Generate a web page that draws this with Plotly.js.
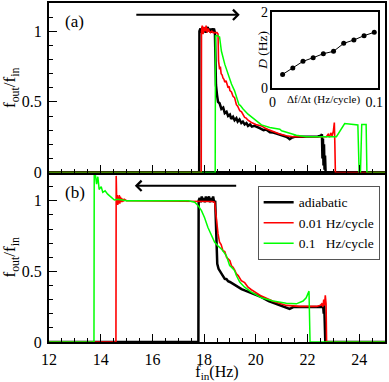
<!DOCTYPE html>
<html>
<head>
<meta charset="utf-8">
<script src="https://cdn.plot.ly/plotly-3.0.1.min.js"></script>
<style>
html,body{margin:0;padding:0;background:#fff;}
#chart{width:389px;height:382px;}
#chart svg text{font-family:"Liberation Serif","Times New Roman",serif !important;}
#aux{position:absolute;left:0;top:390px;font:10px monospace;color:#fff;width:300px;}
</style>
</head>
<body>
<div id="chart"></div>
<div id="aux"></div>
<script>
// ---- Panel (a): upward sweep ----
var upAdiabaticX = [12, 17.81, 17.82, 17.86, 17.9, 17.94, 17.98, 18.02, 18.06, 18.1, 18.14, 18.18, 18.22, 18.26, 18.3, 18.34, 18.38, 18.42, 18.44, 18.46, 18.5, 18.54, 18.6, 18.67, 18.74, 18.8, 18.87, 18.93, 19.0, 19.05, 19.12, 19.18, 19.25, 19.3, 19.37, 19.44, 19.5, 19.57, 19.64, 19.7, 19.78, 19.85, 19.95, 20.09, 20.15, 20.3, 20.4, 20.55, 20.67, 20.8, 20.9, 21.05, 21.18, 21.25, 21.31, 21.38, 21.5, 21.8, 22.1, 22.4, 22.52, 22.56, 22.58, 22.6, 22.62, 22.64, 22.66, 22.68, 22.7, 22.73, 25];
var upAdiabaticY = [0, 0, 1.0, 1.02, 0.99, 1.03, 1.0, 1.02, 0.99, 1.01, 1.03, 1.0, 1.02, 0.99, 1.02, 1.0, 1.02, 0.99, 0.8, 0.62, 0.55, 0.5, 0.49, 0.45, 0.46, 0.42, 0.43, 0.4, 0.41, 0.38, 0.395, 0.37, 0.385, 0.36, 0.375, 0.35, 0.36, 0.34, 0.35, 0.33, 0.34, 0.325, 0.33, 0.315, 0.314, 0.3, 0.305, 0.285, 0.283, 0.275, 0.27, 0.26, 0.253, 0.245, 0.236, 0.245, 0.253, 0.253, 0.253, 0.255, 0.26, 0.27, 0.1, 0.24, 0.05, 0.2, 0.02, 0.12, 0.01, 0, 0];

var upSlowX = [12, 17.89, 17.9, 17.93, 17.96, 18.0, 18.04, 18.08, 18.12, 18.16, 18.2, 18.25, 18.3, 18.35, 18.4, 18.45, 18.5, 18.54, 18.56, 18.6, 18.63, 18.66, 18.7, 18.73, 18.77, 18.8, 18.85, 18.93, 18.97, 19.0, 19.06, 19.12, 19.18, 19.25, 19.3, 19.38, 19.45, 19.57, 19.63, 19.7, 19.77, 19.83, 20.0, 20.22, 20.4, 20.67, 20.9, 21.18, 21.44, 21.8, 22.2, 22.5, 22.73, 22.8, 22.85, 22.9, 22.95, 23.0, 23.04, 23.06, 23.08, 25];
var upSlowY = [0, 0, 1.0, 1.04, 0.98, 1.03, 1.0, 1.04, 0.99, 1.02, 1.0, 0.99, 1.0, 0.99, 0.99, 0.99, 0.99, 0.98, 0.79, 0.73, 0.75, 0.7, 0.69, 0.67, 0.66, 0.64, 0.65, 0.6, 0.61, 0.58, 0.57, 0.54, 0.53, 0.48, 0.47, 0.437, 0.43, 0.39, 0.385, 0.37, 0.36, 0.354, 0.34, 0.33, 0.31, 0.29, 0.275, 0.26, 0.253, 0.253, 0.253, 0.253, 0.253, 0.27, 0.25, 0.28, 0.26, 0.29, 0.354, 0.2, 0, 0];

var upFastX = [12, 18.43, 18.44, 18.5, 18.6, 18.67, 18.8, 18.93, 19.06, 19.18, 19.31, 19.35, 19.4, 19.51, 19.7, 19.96, 20.22, 20.54, 20.93, 21.0, 21.31, 21.57, 21.95, 22.5, 23.12, 23.44, 23.95, 24.0, 24.05, 24.1, 24.12, 24.27, 24.3, 25];
var upFastY = [0, 0, 0.967, 0.97, 0.96, 0.86, 0.767, 0.696, 0.626, 0.578, 0.51, 0.48, 0.475, 0.449, 0.413, 0.378, 0.337, 0.318, 0.307, 0.295, 0.279, 0.264, 0.253, 0.253, 0.253, 0.347, 0.337, 0, 0, 0.34, 0.34, 0.34, 0, 0];

// ---- Panel (b): downward sweep ----
var downAdiabaticX = [12, 17.78, 17.79, 17.83, 17.87, 17.91, 17.95, 17.99, 18.03, 18.07, 18.11, 18.15, 18.19, 18.23, 18.27, 18.31, 18.35, 18.39, 18.43, 18.46, 18.48, 18.51, 18.56, 18.62, 18.67, 18.73, 18.8, 18.87, 18.93, 19.0, 19.12, 19.2, 19.31, 19.45, 19.57, 19.7, 19.83, 20.0, 20.22, 20.5, 20.8, 21.18, 21.31, 21.45, 21.8, 22.2, 22.5, 22.57, 22.6, 22.63, 22.65, 22.67, 22.69, 25];
var downAdiabaticY = [0, 0, 1.0, 1.02, 0.99, 1.03, 1.0, 1.02, 0.99, 1.03, 1.0, 1.01, 1.03, 0.99, 1.02, 1.0, 1.03, 0.99, 1.0, 0.8, 0.67, 0.553, 0.518, 0.5, 0.483, 0.47, 0.447, 0.445, 0.43, 0.425, 0.41, 0.4, 0.388, 0.375, 0.365, 0.355, 0.347, 0.335, 0.318, 0.29, 0.27, 0.247, 0.235, 0.247, 0.247, 0.247, 0.25, 0.247, 0.27, 0.2, 0.26, 0.05, 0, 0];

var downSlowX = [12, 14.59, 14.6, 14.62, 14.64, 14.66, 14.68, 14.7, 14.72, 14.74, 14.76, 14.78, 14.8, 14.82, 14.85, 14.88, 14.92, 15.0, 15.5, 16, 17, 18, 18.3, 18.41, 18.48, 18.54, 18.6, 18.66, 18.73, 18.8, 18.87, 18.93, 19.0, 19.06, 19.12, 19.18, 19.25, 19.32, 19.44, 19.57, 19.7, 19.83, 19.96, 20.22, 20.67, 21.18, 21.7, 22.35, 22.5, 22.55, 22.6, 22.63, 22.66, 22.69, 22.72, 22.73, 22.74, 25];
var downSlowY = [0, 0, 1.176, 0.98, 1.04, 0.97, 1.03, 0.98, 1.04, 0.98, 1.03, 0.99, 1.02, 0.99, 1.015, 0.995, 1.01, 1.0, 1.0, 1.0, 1.0, 1.0, 0.995, 0.99, 0.86, 0.765, 0.706, 0.69, 0.647, 0.64, 0.6, 0.588, 0.575, 0.54, 0.53, 0.51, 0.483, 0.47, 0.435, 0.42, 0.388, 0.37, 0.353, 0.325, 0.289, 0.259, 0.252, 0.252, 0.26, 0.27, 0.25, 0.3, 0.26, 0.33, 0.27, 0.1, 0, 0];

var downFastX = [12, 13.74, 13.75, 13.8, 13.84, 13.89, 13.94, 14.02, 14.08, 14.17, 14.27, 14.4, 14.53, 14.66, 14.79, 15.0, 15.5, 16, 16.5, 17, 17.4, 17.64, 17.77, 17.9, 18.02, 18.15, 18.28, 18.41, 18.54, 18.67, 18.86, 18.93, 18.99, 19.06, 19.18, 19.25, 19.38, 19.57, 19.83, 20.22, 20.67, 21.18, 21.57, 21.83, 21.95, 22.06, 22.08, 22.1, 25];
var downFastY = [0, 0, 1.18, 1.176, 1.118, 1.17, 1.08, 1.10, 1.06, 1.07, 1.047, 1.024, 1.005, 1.01, 1.005, 1.0, 1.0, 1.0, 1.005, 1.0, 1.0, 0.99, 0.965, 0.93, 0.88, 0.81, 0.753, 0.706, 0.68, 0.659, 0.612, 0.577, 0.541, 0.53, 0.506, 0.471, 0.424, 0.388, 0.353, 0.313, 0.29, 0.275, 0.27, 0.29, 0.313, 0.36, 0.1, 0, 0];

// ---- Inset: D vs sweep rate ----
var insetRate = [0.01, 0.02, 0.03, 0.04, 0.05, 0.06, 0.07, 0.08, 0.09, 0.10];
var insetD = [0.368, 0.535, 0.711, 0.807, 0.912, 0.974, 1.184, 1.272, 1.386, 1.474];

var seriesNames = ['adiabatic', '0.01 Hz/cycle', '0.1\u00a0\u00a0\u00a0Hz/cycle'];
var seriesColors = ['#000000', '#ff0000', '#00ff00'];
var seriesWidths = [2.5, 1.6, 1.5];

var FONT = 'Liberation Serif';

function tr(x, y, i, xa, ya, legend) {
  return {x: x, y: y, type: 'scatter', mode: 'lines', xaxis: xa, yaxis: ya,
    name: seriesNames[i], showlegend: legend,
    line: {color: seriesColors[i], width: seriesWidths[i]}, hoverinfo: 'skip'};
}

var data = [
  tr(upAdiabaticX, upAdiabaticY, 0, 'x2', 'y2', false),
  tr(upSlowX, upSlowY, 1, 'x2', 'y2', false),
  tr(upFastX, upFastY, 2, 'x2', 'y2', false),
  tr(downAdiabaticX, downAdiabaticY, 0, 'x', 'y', true),
  tr(downSlowX, downSlowY, 1, 'x', 'y', true),
  tr(downFastX, downFastY, 2, 'x', 'y', true),
  {x: insetRate, y: insetD, type: 'scatter', mode: 'lines+markers', xaxis: 'x3', yaxis: 'y3',
   showlegend: false, line: {color: '#000', width: 1}, marker: {color: '#000', size: 5}}
];

var tickFont = {family: FONT, size: 16, color: '#000'};
function xAx(extra) {
  var a = {range: [12, 25], dtick: 2, tick0: 0, ticks: 'inside', ticklen: 8, tickwidth: 1, tickcolor: '#000',
    minor: {dtick: 0.5, ticks: 'inside', ticklen: 4, tickwidth: 1, tickcolor: '#000'},
    showline: true, linewidth: 2, linecolor: '#000', mirror: true, showgrid: false, zeroline: false,
    tickfont: tickFont, domain: [0, 1], ticklabelstandoff: 2};
  for (var k in extra) a[k] = extra[k];
  return a;
}
function yAx(extra) {
  var a = {range: [0, 1.2], tickvals: [0, 0.5, 1], ticktext: ['0', '0.5', '1'], ticks: 'inside', ticklen: 8, tickwidth: 1, tickcolor: '#000',
    minor: {dtick: 0.1, ticks: 'inside', ticklen: 4, tickwidth: 1, tickcolor: '#000'},
    showline: true, linewidth: 2, linecolor: '#000', mirror: true, showgrid: false, zeroline: false,
    tickfont: tickFont, ticklabelstandoff: 2,
    title: {text: 'f<sub>out</sub>/f<sub>in</sub>', font: {family: FONT, size: 17, color: '#000'}, standoff: 3}};
  for (var k in extra) a[k] = extra[k];
  return a;
}

var layout = {
  width: 389, height: 382,
  margin: {l: 49, r: 4, t: 3, b: 40},
  paper_bgcolor: '#fff', plot_bgcolor: '#fff',
  font: {family: FONT, color: '#000'},
  xaxis: xAx({anchor: 'y', title: {text: 'f<sub>in</sub>(Hz)', font: {family: FONT, size: 16, color: '#000'}, standoff: 0}}),
  yaxis: yAx({anchor: 'x', domain: [0, 0.5]}),
  xaxis2: xAx({anchor: 'y2', showticklabels: false}),
  yaxis2: yAx({anchor: 'x2', domain: [0.5, 1]}),
  xaxis3: {anchor: 'y3', domain: [0.665, 0.978], range: [0, 0.1033], tickvals: [0, 0.1], ticktext: ['0', '0.1'],
    ticks: '', showline: true, linewidth: 1.5, linecolor: '#000', mirror: true, showgrid: false, zeroline: false,
    tickfont: {family: FONT, size: 14, color: '#000'}, ticklabelstandoff: 0},
  yaxis3: {anchor: 'x3', domain: [0.748, 0.9726], range: [0, 2], tickvals: [0, 2], ticktext: ['0', '2'],
    ticks: '', showline: true, linewidth: 1.5, linecolor: '#000', mirror: true, showgrid: false, zeroline: false,
    tickfont: {family: FONT, size: 14, color: '#000'}, ticklabelstandoff: 0},
  showlegend: true,
  legend: {x: 0.621, y: 0.4606, xanchor: 'left', yanchor: 'top', bgcolor: '#fff', bordercolor: '#555', borderwidth: 1,
    font: {family: FONT, size: 13.5, color: '#000'}, tracegroupgap: 0, itemwidth: 30},
  annotations: [
    {xref: 'paper', yref: 'paper', x: 0.0766, y: 0.945, text: '(a)', showarrow: false, xanchor: 'center', yanchor: 'middle', font: {family: FONT, size: 17}},
    {xref: 'paper', yref: 'paper', x: 0.0766, y: 0.44, text: '(b)', showarrow: false, xanchor: 'center', yanchor: 'middle', font: {family: FONT, size: 17}},
    {xref: 'x2', yref: 'y2', x: 19.38, y: 1.116, axref: 'x2', ayref: 'y2', ax: 15.32, ay: 1.116, text: '', showarrow: true, arrowhead: 4, arrowsize: 1, arrowwidth: 2, arrowcolor: '#000'},
    {xref: 'x', yref: 'y', x: 15.32, y: 1.106, axref: 'x', ayref: 'y', ax: 19.3, ay: 1.106, text: '', showarrow: true, arrowhead: 4, arrowsize: 1, arrowwidth: 2, arrowcolor: '#000'},
    {xref: 'paper', yref: 'paper', x: 0.818, y: 0.7166, text: '\u0394f/\u0394t (Hz/cycle)', showarrow: false, xanchor: 'center', yanchor: 'middle', font: {family: FONT, size: 11}},
    {xref: 'paper', yref: 'paper', x: 0.633, y: 0.861, text: '<i>D</i> (Hz)', textangle: -90, showarrow: false, xanchor: 'center', yanchor: 'middle', font: {family: FONT, size: 13.5}}
  ]
};

Plotly.newPlot('chart', data, layout, {displayModeBar: false}).then(function () {
  var t = document.querySelector('.xtick text');
  document.getElementById('aux').textContent = (t ? t.getAttribute('style') : '') + ' ' + document.fonts.check('16px "Liberation Serif"');
});
</script>
</body>
</html>
